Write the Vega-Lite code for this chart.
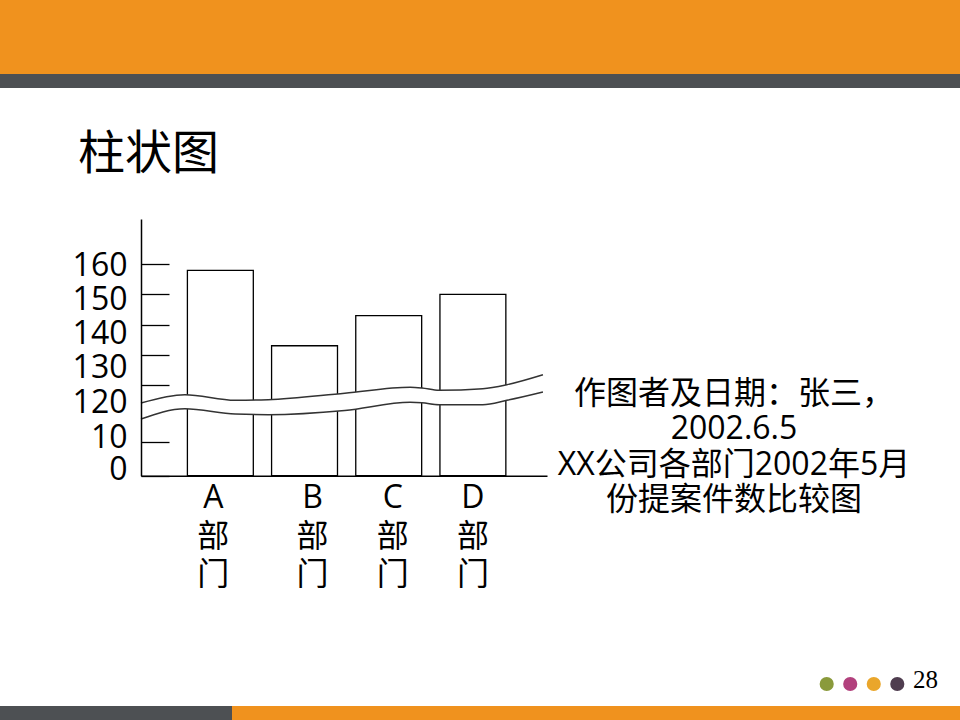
{
  "$schema": "https://vega.github.io/schema/vega-lite/v6.json",
  "width": 960,
  "height": 720,
  "autosize": {"type": "none"},
  "padding": 0,
  "background": "white",
  "config": {"view": {"stroke": null}},
  "datasets": {
    "one": [{}],
    "bars": [
      {"dept": "A部门", "count": 158},
      {"dept": "B部门", "count": 133},
      {"dept": "C部门", "count": 143},
      {"dept": "D部门", "count": 150}
    ],
    "wave": [
      {"pos": 0, "upper": 85.4, "lower": 54.7},
      {"pos": 10.8, "upper": 101.4, "lower": 74.5},
      {"pos": 23.2, "upper": 90.6, "lower": 64.3},
      {"pos": 31.3, "upper": 91.8, "lower": 63},
      {"pos": 50.2, "upper": 104.3, "lower": 71},
      {"pos": 66.3, "upper": 115.6, "lower": 86.8},
      {"pos": 69.2, "upper": 114.2, "lower": 86},
      {"pos": 73.4, "upper": 109.8, "lower": 82.2},
      {"pos": 84.2, "upper": 112.9, "lower": 82.2},
      {"pos": 90.1, "upper": 120.1, "lower": 90.6},
      {"pos": 99, "upper": 123.4, "lower": 106.6}
    ],
    "dots": [{"dot": 1}, {"dot": 2}, {"dot": 3}, {"dot": 4}]
  },
  "layer": [
    {
      "data": {"name": "one"},
      "mark": {"type": "rect", "x": 0, "x2": 960, "y": 0, "y2": 74, "color": "#F0921E"},
      "encoding": {}
    },
    {
      "data": {"name": "one"},
      "mark": {"type": "rect", "x": 0, "x2": 960, "y": 74, "y2": 88, "color": "#4D5053"},
      "encoding": {}
    },
    {
      "data": {"name": "one"},
      "mark": {"type": "rect", "x": 0, "x2": 232, "y": 706, "y2": 720, "color": "#4D5053"},
      "encoding": {}
    },
    {
      "data": {"name": "one"},
      "mark": {"type": "rect", "x": 232, "x2": 960, "y": 706, "y2": 720, "color": "#F0921E"},
      "encoding": {}
    },
    {
      "data": {"name": "one"},
      "mark": {"type": "text", "text": "柱状图", "x": 78, "y": 155, "align": "left", "baseline": "middle", "font": "Noto Sans CJK SC", "fontSize": 47, "color": "black"},
      "encoding": {}
    },
    {
      "data": {"name": "bars"},
      "mark": {"type": "bar", "fill": "white", "stroke": "black", "strokeWidth": 1.3},
      "encoding": {
        "x": {
          "field": "dept",
          "type": "nominal",
          "sort": null,
          "scale": {"range": [141, 547], "paddingInner": 0.217, "paddingOuter": 0.52, "align": 0.53},
          "axis": {
            "title": null,
            "offset": -244.3,
            "ticks": false,
            "domainColor": "black",
            "domainWidth": 1.5,
            "labelFont": "Open Sans, Noto Sans CJK SC",
            "labelFontSize": 32,
            "labelColor": "black",
            "labelAngle": 0,
            "labelBaseline": "top",
            "labelPadding": 7,
            "labelLineHeight": 38.5,
            "labelOverlap": false,
            "labelLimit": 0,
            "labelExpr": "[substring(datum.label, 0, 1), substring(datum.label, 1, 2), substring(datum.label, 2, 3)]",
            "labelOffset": {
              "condition": [
                {"test": "datum.value === 'A部门'", "value": -7},
                {"test": "datum.value === 'B部门'", "value": 8},
                {"test": "datum.value === 'C部门'", "value": 4}
              ],
              "value": 0
            }
          }
        },
        "y": {
          "field": "count",
          "type": "quantitative",
          "scale": {"domain": [0, 10, 120, 175], "range": [475.7, 442.3, 385, 219], "zero": false, "nice": false},
          "axis": {
            "title": null,
            "offset": -141,
            "values": [0, 10, 120, 130, 140, 150, 160],
            "grid": false,
            "zindex": 1,
            "domainColor": "black",
            "domainWidth": 1.5,
            "tickColor": "black",
            "tickWidth": 1.3,
            "tickSize": -28,
            "labelFont": "Open Sans",
            "labelFontSize": 32,
            "labelColor": "black",
            "labelAlign": "right",
            "labelBaseline": "middle",
            "labelPadding": 42,
            "labelOverlap": false,
            "labelFlush": false,
            "labelOffset": {
              "condition": [
                {"test": "datum.value === 160", "value": 1},
                {"test": "datum.value === 150", "value": 5},
                {"test": "datum.value === 140", "value": 9},
                {"test": "datum.value === 130", "value": 13},
                {"test": "datum.value === 120", "value": 17},
                {"test": "datum.value === 10", "value": -5},
                {"test": "datum.value === 0", "value": -6}
              ],
              "value": 0
            }
          }
        },
        "y2": {"datum": 0}
      }
    },
    {
      "data": {"name": "wave"},
      "mark": {"type": "area", "fill": "white", "interpolate": "monotone"},
      "encoding": {
        "x": {"field": "pos", "type": "quantitative", "scale": {"domain": [0, 100], "range": [141, 547]}, "axis": null},
        "y": {"field": "upper", "type": "quantitative", "scale": {"domain": [0, 10, 120, 175], "range": [475.7, 442.3, 385, 219], "zero": false, "nice": false}, "axis": null},
        "y2": {"field": "lower"}
      }
    },
    {
      "data": {"name": "wave"},
      "mark": {"type": "line", "stroke": "#333333", "strokeWidth": 1.5, "interpolate": "monotone"},
      "encoding": {
        "x": {"field": "pos", "type": "quantitative", "scale": {"domain": [0, 100], "range": [141, 547]}, "axis": null},
        "y": {"field": "upper", "type": "quantitative", "scale": {"domain": [0, 10, 120, 175], "range": [475.7, 442.3, 385, 219], "zero": false, "nice": false}, "axis": null}
      }
    },
    {
      "data": {"name": "wave"},
      "mark": {"type": "line", "stroke": "#333333", "strokeWidth": 1.5, "interpolate": "monotone"},
      "encoding": {
        "x": {"field": "pos", "type": "quantitative", "scale": {"domain": [0, 100], "range": [141, 547]}, "axis": null},
        "y": {"field": "lower", "type": "quantitative", "scale": {"domain": [0, 10, 120, 175], "range": [475.7, 442.3, 385, 219], "zero": false, "nice": false}, "axis": null}
      }
    },
    {
      "data": {"name": "one"},
      "mark": {
        "type": "text",
        "text": ["作图者及日期：张三，", "2002.6.5", "XX公司各部门2002年5月", "份提案件数比较图"],
        "x": 734,
        "y": 394,
        "align": "center",
        "baseline": "middle",
        "lineHeight": 35.3,
        "font": "Open Sans, Noto Sans CJK SC",
        "fontSize": 32,
        "color": "black"
      },
      "encoding": {}
    },
    {
      "data": {"name": "dots"},
      "mark": {"type": "point", "filled": true, "opacity": 1, "size": 200},
      "encoding": {
        "x": {"field": "dot", "type": "quantitative", "scale": {"domain": [1, 4], "range": [826.7, 897.3]}, "axis": null},
        "y": {"value": 684},
        "color": {
          "field": "dot",
          "type": "nominal",
          "scale": {"domain": [1, 2, 3, 4], "range": ["#8A9A3B", "#B2417D", "#EAA62B", "#4F3D4F"]},
          "legend": null
        }
      }
    },
    {
      "data": {"name": "one"},
      "mark": {"type": "text", "text": "28", "x": 913, "y": 688, "align": "left", "baseline": "alphabetic", "font": "Liberation Serif", "fontSize": 25, "color": "black"},
      "encoding": {}
    }
  ],
  "resolve": {"scale": {"x": "independent", "y": "independent", "color": "independent"}}
}
